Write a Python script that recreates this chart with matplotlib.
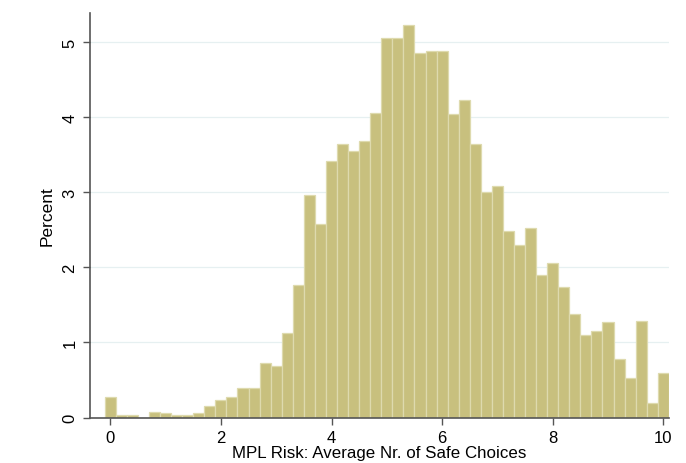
import numpy as np
import matplotlib
matplotlib.use('Agg')
import matplotlib.pyplot as plt

# Histogram of MPL risk measure (bins of 0.2, centred on 0, 0.2, ..., 10)
bin_centres = np.round(np.arange(0, 10.01, 0.2), 1)
percent = [0.27, 0.035, 0.035, 0.0, 0.08, 0.057, 0.035, 0.035, 0.057, 0.15,
           0.24, 0.27, 0.39, 0.40, 0.73, 0.69, 1.13, 1.76, 2.96, 2.58,
           3.42, 3.64, 3.55, 3.69, 4.06, 5.05, 5.05, 5.23, 4.85, 4.88,
           4.88, 4.04, 4.23, 3.64, 3.00, 3.08, 2.49, 2.30, 2.52, 1.90,
           2.06, 1.74, 1.38, 1.10, 1.15, 1.27, 0.78, 0.52, 1.29, 0.19,
           0.59]
xticks = [0, 2, 4, 6, 8, 10]
yticks = [0, 1, 2, 3, 4, 5]

plt.rcParams['font.family'] = ['Liberation Sans', 'DejaVu Sans']

fig = plt.figure(figsize=(6.86, 4.64), dpi=100)
ax = fig.add_axes([0.1312, 0.098, 0.975 - 0.1312, 0.970 - 0.098])

ax.bar(bin_centres, percent, width=0.2, align='center',
       color='#c8c07e', edgecolor='#dedaae', linewidth=0.9, zorder=2)

ax.set_xlim(-0.367, 10.1)
ax.set_ylim(0, 5.39)

ax.set_yticks(yticks)
ax.set_xticks(xticks)
for y in yticks[1:]:
    ax.axhline(y, color='#e6f0f1', linewidth=0.9, zorder=1)

for side in ['top', 'right']:
    ax.spines[side].set_visible(False)
for side in ['left', 'bottom']:
    ax.spines[side].set_color('#555555')
    ax.spines[side].set_linewidth(1.2)

ax.tick_params(axis='both', direction='out', length=5, width=1,
               color='#555555', labelsize=12, pad=4)
plt.setp(ax.get_yticklabels(), rotation=90, va='center')

ax.set_ylabel('Percent', fontsize=12.5, labelpad=6)
ax.set_xlabel('MPL Risk: Average Nr. of Safe Choices', fontsize=12.2, labelpad=0)

plt.savefig('out.png', dpi=100)
plt.close()
